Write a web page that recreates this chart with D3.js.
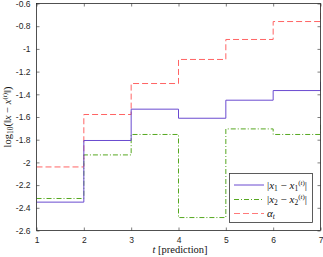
<!DOCTYPE html>
<html><head><meta charset="utf-8">
<script src="https://cdn.jsdelivr.net/npm/d3@7"></script>
<style>body{margin:0;background:#fff}svg{display:block}</style>
</head><body>
<svg id="c" width="323" height="257"></svg>
<script>
const tSteps = [1, 2, 3, 4, 5, 6, 7];
const err1 = [-2.35, -1.807, -1.531, -1.611, -1.452, -1.367, -1.29];
const err2 = [-2.318, -1.934, -1.754, -2.486, -1.705, -1.754, -1.66];
const alpha = [-2.04, -1.578, -1.305, -1.093, -0.917, -0.759, -0.5];
const xTicks = [1, 2, 3, 4, 5, 6, 7];
const yTicks = [-2.6, -2.4, -2.2, -2, -1.8, -1.6, -1.4, -1.2, -1, -0.8, -0.6];

const svg = d3.select('#c');
const L = 36.5, R = 320.5, T = 3.5, B = 230.5;
const x = d3.scaleLinear().domain([1, 7]).range([L, R]);
const y = d3.scaleLinear().domain([-2.6, -0.6]).range([B, T]);
const fmt = d => String(d);

svg.append('defs').append('clipPath').attr('id', 'clip')
  .append('rect').attr('x', L).attr('y', T).attr('width', R - L).attr('height', B - T);

const tickFont = 'Liberation Sans, Arial, sans-serif';
function styleAxis(g, hideText) {
  g.select('.domain').remove();
  g.selectAll('line').attr('stroke', '#262626').attr('stroke-width', 0.6);
  g.selectAll('text').attr('font-family', tickFont).attr('font-size', 8.5).attr('fill', '#262626');
  if (hideText) g.selectAll('text').remove();
}
svg.append('g').attr('transform', `translate(0,${B})`)
  .call(d3.axisBottom(x).tickValues(xTicks).tickFormat(fmt).tickSizeInner(-3).tickSizeOuter(0).tickPadding(6))
  .call(g => styleAxis(g));
svg.append('g').attr('transform', `translate(0,${T})`)
  .call(d3.axisTop(x).tickValues(xTicks).tickSizeInner(-3).tickSizeOuter(0))
  .call(g => styleAxis(g, true));
svg.append('g').attr('transform', `translate(${L},0)`)
  .call(d3.axisLeft(y).tickValues(yTicks).tickFormat(fmt).tickSizeInner(-3).tickSizeOuter(0).tickPadding(6))
  .call(g => styleAxis(g));
svg.append('g').attr('transform', `translate(${R},0)`)
  .call(d3.axisRight(y).tickValues(yTicks).tickSizeInner(-3).tickSizeOuter(0))
  .call(g => styleAxis(g, true));

const line = vals => d3.line().curve(d3.curveStepAfter)
  .x((d, i) => x(tSteps[i])).y(d => y(d))(vals);

const plot = svg.append('g').attr('clip-path', 'url(#clip)');
plot.append('path').attr('d', line(alpha)).attr('fill', 'none')
  .attr('stroke', '#ff6464').attr('stroke-width', 1).attr('stroke-dasharray', '6,3');
plot.append('path').attr('d', line(err2)).attr('fill', 'none')
  .attr('stroke', '#56a820').attr('stroke-width', 1).attr('stroke-dasharray', '5,2,1,2');
plot.append('path').attr('d', line(err1)).attr('fill', 'none')
  .attr('stroke', '#6a4bd0').attr('stroke-width', 1);

svg.append('rect').attr('x', L).attr('y', T).attr('width', R - L).attr('height', B - T)
  .attr('fill', 'none').attr('stroke', '#262626').attr('stroke-width', 0.8);

// legend
const lg = svg.append('g');
lg.append('rect').attr('x', 229.5).attr('y', 173.5).attr('width', 83).attr('height', 49)
  .attr('fill', '#fff').attr('stroke', '#333').attr('stroke-width', 0.8);
const serif = 'Liberation Serif, DejaVu Serif, serif';
const entries = [
  {c: '#6a4bd0', dash: null, idx: '1', y: 185},
  {c: '#56a820', dash: '5,2,1,2', idx: '2', y: 199.5},
  {c: '#ff7a7a', dash: '6,3', idx: null, y: 213.5}
];
entries.forEach(e => {
  const ln = lg.append('line').attr('x1', 234).attr('x2', 264).attr('y1', e.y).attr('y2', e.y)
    .attr('stroke', e.c).attr('stroke-width', 1);
  if (e.dash) ln.attr('stroke-dasharray', e.dash);
  const t = lg.append('text').attr('x', 267).attr('y', e.y + 3.5)
    .attr('font-family', serif).attr('font-size', 11).attr('fill', '#111');
  if (e.idx) {
    t.append('tspan').text('|');
    t.append('tspan').attr('font-style', 'italic').text('x');
    t.append('tspan').attr('font-size', 7.5).attr('dy', 2).text(e.idx);
    t.append('tspan').attr('dy', -2).text(' − ');
    t.append('tspan').attr('font-style', 'italic').text('x');
    t.append('tspan').attr('font-size', 7.5).attr('dy', 2).text(e.idx);
    t.append('tspan').attr('font-size', 7).attr('dy', -6).text('(');
    t.append('tspan').attr('font-size', 7).attr('font-style', 'italic').text('t');
    t.append('tspan').attr('font-size', 7).text(')');
    t.append('tspan').attr('dy', 4).text('|');
  } else {
    t.append('tspan').attr('font-style', 'italic').text('α');
    t.append('tspan').attr('font-style', 'italic').attr('font-size', 7.5).attr('dy', 2).text('t');
  }
});

// x label
const xl = svg.append('text').attr('x', 180).attr('y', 253).attr('text-anchor', 'middle')
  .attr('font-family', serif).attr('font-size', 10.5).attr('fill', '#111');
xl.append('tspan').attr('font-style', 'italic').text('t');
xl.append('tspan').text('  [prediction]');

// y label
const yl = svg.append('text').attr('transform', `translate(11,${(T + B) / 2}) rotate(-90)`)
  .attr('text-anchor', 'middle').attr('font-family', serif).attr('font-size', 10.5).attr('fill', '#111');
yl.append('tspan').text('log');
yl.append('tspan').attr('font-size', 7.5).attr('dy', 2).text('10');
yl.append('tspan').attr('dy', -2).text('(‖');
yl.append('tspan').attr('font-style', 'italic').text('x');
yl.append('tspan').text(' − ');
yl.append('tspan').attr('font-style', 'italic').text('x');
yl.append('tspan').attr('font-size', 7).attr('dy', -4).text('(');
yl.append('tspan').attr('font-size', 7).attr('font-style', 'italic').text('t');
yl.append('tspan').attr('font-size', 7).text(')');
yl.append('tspan').attr('dy', 4).text('‖)');
</script>
</body></html>
